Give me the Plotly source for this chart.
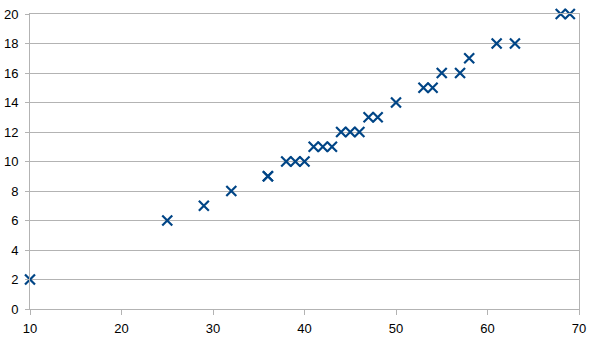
import plotly.graph_objects as go

x_vals = [10, 25, 29, 32, 36, 36, 38, 39, 40, 41, 42, 43, 44, 45, 46, 47, 48, 50, 53, 54, 55, 57, 58, 61, 63, 68, 69]
y_vals = [2, 6, 7, 8, 9, 9, 10, 10, 10, 11, 11, 11, 12, 12, 12, 13, 13, 14, 15, 15, 16, 16, 17, 18, 18, 20, 20]

grid = "#b3b3b3"
fig = go.Figure(go.Scatter(
    x=x_vals, y=y_vals, mode="markers", cliponaxis=False,
    marker=dict(symbol="x-thin", size=10, line=dict(width=2.2, color="#004586"), color="#004586"),
))
fig.update_layout(
    width=605, height=340,
    margin=dict(l=29.5, r=25.7, t=14.3, b=30.7),
    paper_bgcolor="white", plot_bgcolor="white",
    showlegend=False,
    font=dict(family="Liberation Sans", size=13, color="black"),
)
fig.update_xaxes(range=[10, 70], dtick=10, tick0=10, showgrid=False, zeroline=False, automargin=False,
                 showline=True, mirror=True, linecolor=grid, linewidth=1,
                 ticks="outside", ticklen=5, tickcolor=grid, ticklabelstandoff=2)
fig.update_yaxes(range=[0, 20], dtick=2, showgrid=True, gridcolor=grid, gridwidth=1, zeroline=False, automargin=False,
                 showline=True, mirror=True, linecolor=grid, linewidth=1,
                 ticks="outside", ticklen=4, tickcolor=grid, ticklabelstandoff=4)
fig.write_html("out.html")
